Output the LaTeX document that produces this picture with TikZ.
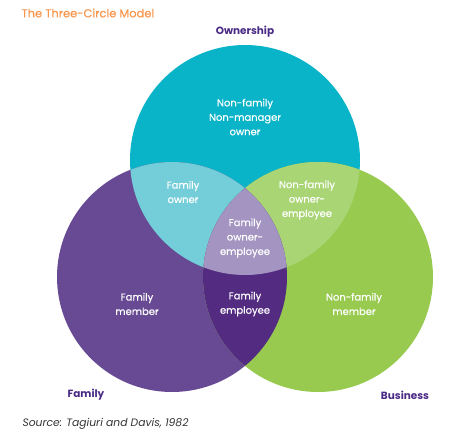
\documentclass[tikz,border=0pt]{standalone}
\usepackage{fontspec}
\setmainfont{Poppins}
\newfontfamily\medfont{Poppins}[FakeBold=0.5]
\definecolor{tealc}{HTML}{0AB4C8}
\definecolor{purp}{HTML}{674A93}
\definecolor{grn}{HTML}{97CA4F}
\definecolor{lteal}{HTML}{74CED9}
\definecolor{lgrn}{HTML}{A9D575}
\definecolor{lpurp}{HTML}{A394C2}
\definecolor{dpurp}{HTML}{532B80}
\definecolor{ttl}{HTML}{F7964C}
\definecolor{lbl}{HTML}{4A2A85}
\definecolor{src}{HTML}{333333}
\tikzset{
  inside/.style={text=white, align=center, font=\medfont\fontsize{10}{14.5}\selectfont},
  setname/.style={text=lbl, font=\fontsize{10.5}{12}\selectfont\bfseries},
}
\begin{document}
\begin{tikzpicture}[x=1bp,y=-1bp]
\useasboundingbox (0,0) rectangle (461,448);
\coordinate (cT) at (245,160);
\coordinate (cL) at (172,277);
\coordinate (cR) at (318,277);
\fill[tealc] (cT) circle[radius=115bp];
\fill[purp] (cL) circle[radius=115bp];
\fill[grn] (cR) circle[radius=115bp];
\begin{scope}
  \clip (cT) circle[radius=115bp];
  \fill[lteal] (cL) circle[radius=115bp];
  \fill[lgrn] (cR) circle[radius=115bp];
\end{scope}
\begin{scope}
  \clip (cL) circle[radius=115bp];
  \fill[dpurp] (cR) circle[radius=115bp];
\end{scope}
\begin{scope}
  \clip (cL) circle[radius=115bp];
  \clip (cR) circle[radius=115bp];
  \fill[lpurp] (cT) circle[radius=115bp];
\end{scope}
\node[anchor=west, text=ttl, font=\medfont\fontsize{11.5}{13}\selectfont] (title) at (18,13) {The Three-Circle Model};
\node[setname] (own) at (245,32) {Ownership};
\node[setname] (fam) at (86,395) {Family};
\node[setname] (bus) at (405,395) {Business};
\node[anchor=west, text=src, font=\fontsize{10.8}{12}\selectfont\itshape] (source) at (19,424) {Source: Tagiuri and Davis, 1982};
\node[inside] (nfnm) at (245,117) {Non-family\\Non-manager\\owner};
\node[inside] (fo) at (183,192) {Family\\owner};
\node[inside] (nfoe) at (307,200) {Non-family\\owner-\\employee};
\node[inside] (foe) at (245,238) {Family\\owner-\\employee};
\node[inside] (fm) at (137,304) {Family\\member};
\node[inside] (fe) at (245,304) {Family\\employee};
\node[inside] (nfm) at (354,304) {Non-family\\member};
\end{tikzpicture}
\end{document}
